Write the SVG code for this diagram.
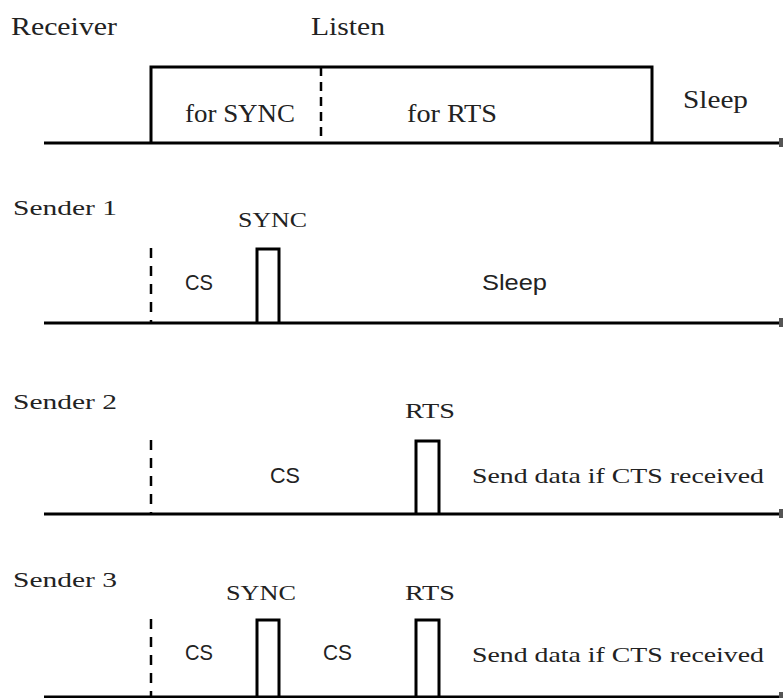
<svg xmlns="http://www.w3.org/2000/svg" width="784" height="698" viewBox="0 0 784 698">
  <style>
    text { font-family: 'Liberation Serif', 'DejaVu Serif', serif; fill: #222; }
    .sans { font-family: 'Liberation Sans', Arial, sans-serif; }
    .lg { font-size: 25px; }
    .md { font-size: 22px; }
    .axis { stroke: #000; stroke-width: 3; fill: none; }
    .frame { stroke: #000; stroke-width: 3; fill: none; stroke-linejoin: miter; }
    .cut { stroke: #000; stroke-width: 2.5; fill: none; }
    .tip { fill: #555; }
  </style>
  <rect width="784" height="698" fill="#fff"/>

  <!-- Receiver lane -->
  <g id="receiver">
    <text class="lg" x="11" y="35" textLength="106" lengthAdjust="spacingAndGlyphs">Receiver</text>
    <text class="lg" x="311" y="35" textLength="74" lengthAdjust="spacingAndGlyphs">Listen</text>
    <line class="axis" x1="44" y1="143" x2="779" y2="143"/>
    <rect class="tip" x="779" y="138" width="4" height="9"/>
    <polyline class="frame" points="151,143 151,67 652,67 652,143"/>
    <line class="cut" x1="321" y1="67" x2="321" y2="143" stroke-dasharray="9,6"/>
    <text class="lg" x="185" y="122" textLength="110" lengthAdjust="spacingAndGlyphs">for SYNC</text>
    <text class="lg" x="407" y="122" textLength="90" lengthAdjust="spacingAndGlyphs">for RTS</text>
    <text class="lg" x="683" y="108" textLength="65" lengthAdjust="spacingAndGlyphs">Sleep</text>
  </g>

  <!-- Sender 1 lane -->
  <g id="sender1">
    <text class="md" x="13" y="215" textLength="104" lengthAdjust="spacingAndGlyphs">Sender 1</text>
    <line class="axis" x1="44" y1="323" x2="779" y2="323"/>
    <rect class="tip" x="779" y="318" width="4" height="9"/>
    <line class="cut" x1="151" y1="248" x2="151" y2="323" stroke-dasharray="10,8"/>
    <polyline class="frame" points="257,323 257,249 279,249 279,323"/>
    <text class="md" x="238" y="227" textLength="69" lengthAdjust="spacingAndGlyphs">SYNC</text>
    <text class="md sans" x="185" y="290" textLength="28" lengthAdjust="spacingAndGlyphs">CS</text>
    <text class="md sans" x="482" y="290" textLength="65" lengthAdjust="spacingAndGlyphs">Sleep</text>
  </g>

  <!-- Sender 2 lane -->
  <g id="sender2">
    <text class="md" x="13" y="409" textLength="104" lengthAdjust="spacingAndGlyphs">Sender 2</text>
    <line class="axis" x1="44" y1="514" x2="779" y2="514"/>
    <rect class="tip" x="779" y="509" width="4" height="9"/>
    <line class="cut" x1="151" y1="440" x2="151" y2="514" stroke-dasharray="10,8"/>
    <polyline class="frame" points="416,514 416,441 439,441 439,514"/>
    <text class="md" x="405" y="418" textLength="50" lengthAdjust="spacingAndGlyphs">RTS</text>
    <text class="md sans" x="270" y="483" textLength="30" lengthAdjust="spacingAndGlyphs">CS</text>
    <text class="md" x="472" y="483" textLength="292" lengthAdjust="spacingAndGlyphs">Send data if CTS received</text>
  </g>

  <!-- Sender 3 lane -->
  <g id="sender3">
    <text class="md" x="13" y="587" textLength="104" lengthAdjust="spacingAndGlyphs">Sender 3</text>
    <line class="axis" x1="44" y1="697" x2="779" y2="697"/>
    <rect class="tip" x="779" y="692" width="4" height="6"/>
    <line class="cut" x1="151" y1="619" x2="151" y2="697" stroke-dasharray="10,8"/>
    <polyline class="frame" points="257,697 257,620 279,620 279,697"/>
    <polyline class="frame" points="416,697 416,620 439,620 439,697"/>
    <text class="md" x="226" y="600" textLength="70" lengthAdjust="spacingAndGlyphs">SYNC</text>
    <text class="md" x="405" y="600" textLength="50" lengthAdjust="spacingAndGlyphs">RTS</text>
    <text class="md sans" x="185" y="660" textLength="28" lengthAdjust="spacingAndGlyphs">CS</text>
    <text class="md sans" x="323" y="660" textLength="29" lengthAdjust="spacingAndGlyphs">CS</text>
    <text class="md" x="472" y="662" textLength="292" lengthAdjust="spacingAndGlyphs">Send data if CTS received</text>
  </g>
</svg>
